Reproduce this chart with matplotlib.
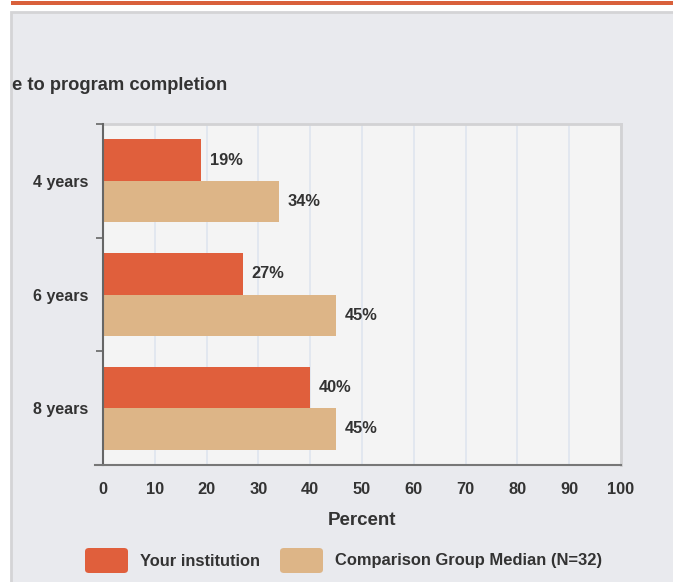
import matplotlib.pyplot as plt
from matplotlib.patches import Rectangle, FancyBboxPatch
import numpy as np

plt.rcParams['font.family'] = ['Liberation Sans', 'DejaVu Sans']

categories = ['4 years', '6 years', '8 years']
institution = [19, 27, 40]
comparison = [34, 45, 45]
series_names = ['Your institution', 'Comparison Group Median (N=32)']
colors = ['#e05f3c', '#ddb587']
xticks = [0, 10, 20, 30, 40, 50, 60, 70, 80, 90, 100]

W, H = 673, 582
fig = plt.figure(figsize=(W / 100, H / 100), dpi=100)
fig.patch.set_facecolor('white')

# page decorations: orange rule and the gray panel
fig.add_artist(Rectangle((11 / W, 1 - 5 / H), (W - 11) / W, 4 / H,
                         transform=fig.transFigure, color='#d9603b', lw=0, zorder=-10))
fig.add_artist(Rectangle((11 / W, -0.01), 1, 1 - 12 / H + 0.01,
                         transform=fig.transFigure, facecolor='#e9eaee',
                         edgecolor='#d4d4d6', lw=2, zorder=-10))

fig.text(12 / W, 1 - 85 / H, 'e to program completion', fontsize=13.2,
         fontweight='bold', color='#333333', va='center', ha='left')

ax = fig.add_axes([103 / W, 1 - 465 / H, (621 - 103) / W, (465 - 124) / H])
ax.set_facecolor('#f4f4f4')

y = np.arange(len(categories))
h = 0.365
ax.barh(y - h / 2, institution, height=h, color=colors[0], zorder=3)
ax.barh(y + h / 2, comparison, height=h, color=colors[1], zorder=3)

for i in range(len(categories)):
    ax.text(institution[i] + 1.6, y[i] - h / 2, f'{institution[i]}%',
            va='center', ha='left', fontsize=11.8, fontweight='bold', color='#333333')
    ax.text(comparison[i] + 1.6, y[i] + h / 2, f'{comparison[i]}%',
            va='center', ha='left', fontsize=11.8, fontweight='bold', color='#333333')

ax.set_xlim(0, 100)
ax.set_ylim(2.5, -0.5)
ax.set_xticks(xticks)
ax.set_xticklabels([str(t) for t in xticks], fontsize=11.8, fontweight='bold', color='#333333')
ax.set_yticks(y)
ax.set_yticklabels(categories, fontsize=11.5, fontweight='bold', color='#333333')
ax.tick_params(axis='y', length=0, pad=10.5)
ax.tick_params(axis='x', length=0, pad=12)
ax.set_yticks([-0.5, 0.5, 1.5, 2.5], minor=True)
ax.tick_params(axis='y', which='minor', length=5, width=1.2, color='#666666')

ax.grid(axis='x', color='#dfe5ee', lw=1.2, zorder=0)
ax.set_axisbelow(True)

for s in ['top', 'right']:
    ax.spines[s].set_color('#d2d2d4')
    ax.spines[s].set_linewidth(2)
ax.spines['left'].set_color('#666666')
ax.spines['left'].set_linewidth(1.5)
ax.spines['left'].set_zorder(4)
ax.spines['bottom'].set_visible(False)
# bottom axis line extends a bit past the left edge
ax.plot([-1.6, 100], [2.5, 2.5], color='#777777', lw=1.5, clip_on=False, zorder=5)

ax.set_xlabel('Percent', fontsize=13.5, fontweight='bold', color='#333333', labelpad=11)

# legend
lx = [85, 280]
for i, name in enumerate(series_names):
    fig.add_artist(FancyBboxPatch((lx[i] / W, 1 - 573 / H), 43 / W, 25 / H,
                                  boxstyle='round,pad=0,rounding_size=0.006',
                                  transform=fig.transFigure, color=colors[i], lw=0))
    fig.text((lx[i] + 55) / W, 1 - 561 / H, name, fontsize=11.85, fontweight='bold',
             color='#333333', va='center', ha='left')

fig.savefig('out.png', dpi=100)
